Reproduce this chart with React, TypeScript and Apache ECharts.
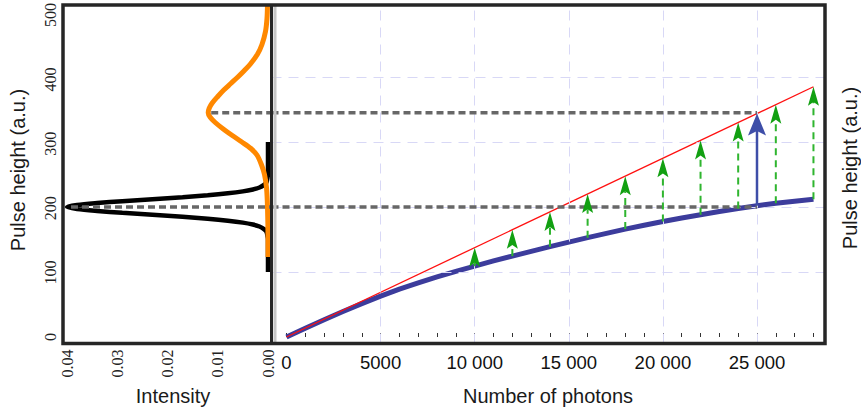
import React, { useEffect, useRef } from 'react';
import * as echarts from 'echarts';

// ---- data ----
const pulseTicks = [0, 100, 200, 300, 400, 500];
const intensityTicks = [0, 0.01, 0.02, 0.03, 0.04];
const photonTicks = [0, 5000, 10000, 15000, 20000, 25000];

// left panel: black (narrow) distribution, pulse height -> intensity
const blackHeights = [100, 150, 155, 162, 166, 170, 173, 176, 179, 182, 185, 188, 191, 194, 197, 200, 203, 206, 209, 212, 215, 218, 221, 224, 227, 230, 234, 238, 245, 250, 300];
const blackIntensity = [0, 0, 0.0001, 0.0003, 0.0008, 0.0017, 0.003, 0.005, 0.008, 0.012, 0.017, 0.023, 0.029, 0.034, 0.038, 0.04, 0.038, 0.034, 0.029, 0.023, 0.017, 0.012, 0.008, 0.005, 0.003, 0.0017, 0.0008, 0.0003, 0.0001, 0, 0];

// left panel: orange (broad) distribution
const orangeHeights = [123, 150, 200, 230, 250, 265, 280, 290, 300, 310, 320, 330, 338, 345, 352, 360, 370, 380, 390, 400, 410, 420, 435, 450, 470, 490, 511];
const orangeIntensity = [0, 0, 0.0001, 0.0003, 0.0007, 0.0013, 0.0022, 0.0034, 0.0052, 0.0071, 0.0089, 0.0105, 0.0115, 0.0119, 0.0117, 0.0111, 0.01, 0.0088, 0.0074, 0.006, 0.0047, 0.0035, 0.0021, 0.0012, 0.0005, 0.0002, 0.0001];

// right panel: measured (saturating) response
const blueN = [0, 1000, 2000, 3000, 4000, 5000, 6000, 7000, 8000, 9000, 10000, 11000, 12000, 13000, 14000, 15000, 16000, 17000, 18000, 19000, 20000, 21000, 22000, 23000, 24000, 25000, 26000, 27000, 28000];
const blueV = [0, 13.5, 26.5, 39.2, 51.3, 62.8, 73.6, 83.3, 92.4, 101, 109, 117, 124.5, 131.8, 139, 146, 152.8, 159.5, 166, 172, 177.7, 183, 188, 193, 197.7, 202, 205.8, 209, 212];

// right panel: ideal linear response
const redN = [0, 28000];
const redV = [0, 385];

// green correction arrows
const arrowN = [10000, 12000, 14000, 16000, 18000, 20000, 22000, 24000, 26000, 28000];
const arrowBase = [109, 124.5, 139, 152.8, 166, 177.7, 188, 197.7, 205.8, 212];
const arrowTip = [137.5, 165, 192.5, 220, 247.5, 275, 302.5, 330, 357.5, 385];

// blue arrow
const mainArrowN = [25000];
const mainArrowBase = [202];
const mainArrowTip = [344];

// grey dashed level lines
const levelValues = [200, 345];
const levelLeftStart = [0.0392, 0.0113];
const levelRightEnd = [25000, 25000];

// light grid of right panel
const gridPhotons = [5000, 10000, 15000, 20000, 25000];
const gridPulse = [100, 200, 300, 400];

// ---- layout (pixels) ----
const PANEL_TOP = 5;
const PANEL_BOTTOM = 343.5;
const PANEL_LEFT = 63;
const DIVIDER = 271.5;
const PANEL_RIGHT = 825;
const Y0 = 337; // pixel of pulse height 0
const YS = 0.65; // px per unit
const IX0 = 268; // pixel of intensity 0
const IXS = 5025; // px per unit
const NX0 = 286.5; // pixel of 0 photons
const NXS = 94.1 / 5000; // px per photon

const SANS = 'Liberation Sans, Arial, Helvetica, sans-serif';
const SERIF = 'Liberation Serif, Times New Roman, serif';

function fmtPhotons(v: number) {
  if (Math.abs(v % 5000) > 1e-6) return '';
  if (v < 10000) return String(Math.round(v));
  const k = Math.floor(v / 1000);
  const r = Math.round(v % 1000);
  return k + ' ' + String(r).padStart(3, '0');
}

export default function App() {
  const ref = useRef<HTMLDivElement>(null);
  useEffect(() => {
    if (!ref.current) return;
    const chart = echarts.init(ref.current, undefined, { renderer: 'svg' });

    const yMin = (Y0 - PANEL_BOTTOM) / YS;
    const yMax = (Y0 - PANEL_TOP) / YS;
    const lxMin = (IX0 - DIVIDER) / IXS;
    const lxMax = (IX0 - PANEL_LEFT) / IXS;
    const rxMin = (DIVIDER - NX0) / NXS;
    const rxMax = (PANEL_RIGHT - NX0) / NXS;

    const tickTop = Y0 - pulseTicks[pulseTicks.length - 1] * YS;
    const iMax = intensityTicks[intensityTicks.length - 1];
    const pMax = 28000;

    const arrowRender = (L: number, W: number, stroke: string, fill: string, lw: number, dash: number[] | null) =>
      (params: any, api: any) => {
        const x = api.value(0);
        const b = api.value(1);
        const t = api.value(2);
        const p0 = api.coord([x, b]);
        const p1 = api.coord([x, t]);
        return {
          type: 'group',
          children: [
            {
              type: 'line',
              shape: { x1: p0[0], y1: p0[1], x2: p1[0], y2: p1[1] + L * 0.8 },
              style: { stroke, lineWidth: lw, lineDash: dash || undefined },
            },
            {
              type: 'polygon',
              shape: {
                points: [
                  [p1[0], p1[1]],
                  [p1[0] - W / 2, p1[1] + L],
                  [p1[0], p1[1] + L * 0.8],
                  [p1[0] + W / 2, p1[1] + L],
                ],
              },
              style: { fill },
            },
          ],
        };
      };

    const option: any = {
      animation: false,
      backgroundColor: '#ffffff',
      grid: [
        { left: PANEL_LEFT, top: PANEL_TOP, width: DIVIDER - PANEL_LEFT, height: PANEL_BOTTOM - PANEL_TOP },
        { left: DIVIDER, top: PANEL_TOP, width: PANEL_RIGHT - DIVIDER, height: PANEL_BOTTOM - PANEL_TOP },
        { left: IX0 - iMax * IXS, top: tickTop, width: iMax * IXS, height: Y0 - tickTop },
        { left: NX0, top: tickTop, width: pMax * NXS, height: Y0 - tickTop },
      ],
      xAxis: [
        { gridIndex: 0, type: 'value', inverse: true, min: lxMin, max: lxMax, show: false },
        { gridIndex: 1, type: 'value', min: rxMin, max: rxMax, show: false },
        {
          gridIndex: 2, type: 'value', inverse: true, min: 0, max: iMax, interval: 0.01,
          offset: PANEL_BOTTOM - Y0,
          axisLine: { show: false }, axisTick: { show: false }, splitLine: { show: false },
          axisLabel: { rotate: 90, margin: 6, fontFamily: SERIF, fontSize: 16, color: '#222', formatter: (v: number) => v.toFixed(2) },
        },
        {
          gridIndex: 3, type: 'value', min: 0, max: pMax, interval: 1000,
          offset: PANEL_BOTTOM - Y0,
          axisLine: { show: false },
          axisTick: { show: true, inside: true, length: 4, lineStyle: { color: '#333', width: 1 } },
          splitLine: { show: false },
          axisLabel: { margin: 9, fontFamily: SANS, fontSize: 18.5, color: '#111', formatter: fmtPhotons },
        },
      ],
      yAxis: [
        { gridIndex: 0, type: 'value', min: yMin, max: yMax, show: false },
        { gridIndex: 1, type: 'value', min: yMin, max: yMax, show: false },
        {
          gridIndex: 2, type: 'value', min: 0, max: 500, interval: 100,
          offset: IX0 - iMax * IXS - PANEL_LEFT,
          axisLine: { show: false }, axisTick: { show: false }, splitLine: { show: false },
          axisLabel: { rotate: 90, margin: 5, fontFamily: SERIF, fontSize: 16, color: '#222' },
        },
        { gridIndex: 3, type: 'value', min: 0, max: 500, show: false },
      ],
      series: [
        {
          name: 'grid', type: 'line', xAxisIndex: 1, yAxisIndex: 1, z: 1, silent: true,
          data: blueN.map((n, i) => [n, blueV[i]]), showSymbol: false,
          lineStyle: { opacity: 0 },
          markLine: {
            silent: true, symbol: ['none', 'none'], label: { show: false },
            lineStyle: { color: '#d8d8f6', type: [10, 7], width: 1 },
            emphasis: { disabled: true },
            data: [...gridPhotons.map((v) => ({ xAxis: v })), ...gridPulse.map((v) => ({ yAxis: v }))],
          },
        },
        {
          name: 'black', type: 'line', xAxisIndex: 0, yAxisIndex: 0, z: 3, silent: true,
          data: blackHeights.map((h, i) => [blackIntensity[i], h]), showSymbol: false, smooth: 0.3,
          lineStyle: { color: '#000000', width: 4.5 },
        },
        {
          name: 'orange', type: 'line', xAxisIndex: 0, yAxisIndex: 0, z: 4, silent: true,
          data: orangeHeights.map((h, i) => [orangeIntensity[i], h]), showSymbol: false, smooth: 0.3,
          lineStyle: { color: '#ff8800', width: 5 },
        },
        ...levelValues.map((lv, i) => ({
          name: 'levelL' + i, type: 'line', xAxisIndex: 0, yAxisIndex: 0, z: 5, silent: true,
          data: [[levelLeftStart[i], lv], [lxMin, lv]], showSymbol: false,
          lineStyle: { color: '#676767', width: 3.5, type: [7, 4] },
        })),
        {
          name: 'blue', type: 'line', xAxisIndex: 1, yAxisIndex: 1, z: 3, silent: true,
          data: blueN.map((n, i) => [n, blueV[i]]), showSymbol: false, smooth: false,
          lineStyle: { color: '#3c3c9c', width: 5, join: 'round' },
        },
        {
          name: 'red', type: 'line', xAxisIndex: 1, yAxisIndex: 1, z: 4, silent: true,
          data: redN.map((n, i) => [n, redV[i]]), showSymbol: false,
          lineStyle: { color: '#ff1010', width: 1.3 },
        },
        ...levelValues.map((lv, i) => ({
          name: 'levelR' + i, type: 'line', xAxisIndex: 1, yAxisIndex: 1, z: 5, silent: true,
          data: [[rxMin, lv], [levelRightEnd[i], lv]], showSymbol: false,
          lineStyle: { color: '#676767', width: 3.5, type: [7, 4] },
        })),
        {
          name: 'greenArrows', type: 'custom', xAxisIndex: 1, yAxisIndex: 1, z: 6, silent: true,
          data: arrowN.map((n, i) => [n, arrowBase[i], arrowTip[i]]),
          encode: { x: 0, y: [1, 2] },
          renderItem: arrowRender(19, 11, '#2fb52f', '#12a012', 2, [7, 5]),
        },
        {
          name: 'blueArrow', type: 'custom', xAxisIndex: 1, yAxisIndex: 1, z: 7, silent: true,
          data: mainArrowN.map((n, i) => [n, mainArrowBase[i], mainArrowTip[i]]),
          encode: { x: 0, y: [1, 2] },
          renderItem: arrowRender(22, 18, '#3e4ea8', '#3e4ea8', 2.5, null),
        },
      ],
      graphic: [
        {
          type: 'line', z: 99, silent: true,
          shape: { x1: DIVIDER + 3.5, y1: PANEL_TOP + 1, x2: DIVIDER + 3.5, y2: PANEL_BOTTOM - 1 },
          style: { stroke: '#c6c6c6', lineWidth: 3 },
        },
        {
          type: 'rect', z: 100, silent: true,
          shape: { x: PANEL_LEFT, y: PANEL_TOP, width: PANEL_RIGHT - PANEL_LEFT, height: PANEL_BOTTOM - PANEL_TOP },
          style: { fill: 'none', stroke: '#262626', lineWidth: 3.5 },
        },
        {
          type: 'line', z: 100, silent: true,
          shape: { x1: DIVIDER, y1: PANEL_TOP, x2: DIVIDER, y2: PANEL_BOTTOM },
          style: { stroke: '#262626', lineWidth: 3 },
        },
        {
          type: 'text', x: 18, y: 170, rotation: Math.PI / 2, silent: true,
          style: { text: 'Pulse height (a.u.)', fontFamily: SANS, fontSize: 20, fill: '#1a1a1a', align: 'center', verticalAlign: 'middle' },
        },
        {
          type: 'text', x: 850, y: 168, rotation: Math.PI / 2, silent: true,
          style: { text: 'Pulse height (a.u.)', fontFamily: SANS, fontSize: 20, fill: '#1a1a1a', align: 'center', verticalAlign: 'middle' },
        },
        {
          type: 'text', x: 173, y: 396, silent: true,
          style: { text: 'Intensity', fontFamily: SANS, fontSize: 20, fill: '#1a1a1a', align: 'center', verticalAlign: 'middle' },
        },
        {
          type: 'text', x: 548, y: 396, silent: true,
          style: { text: 'Number of photons', fontFamily: SANS, fontSize: 20, fill: '#1a1a1a', align: 'center', verticalAlign: 'middle' },
        },
      ],
    };
    chart.setOption(option);
    return () => chart.dispose();
  }, []);
  return (
    <div
      ref={ref}
      style={{ position: 'fixed', left: 0, top: 0, width: 861, height: 412, background: '#fff' }}
    />
  );
}
